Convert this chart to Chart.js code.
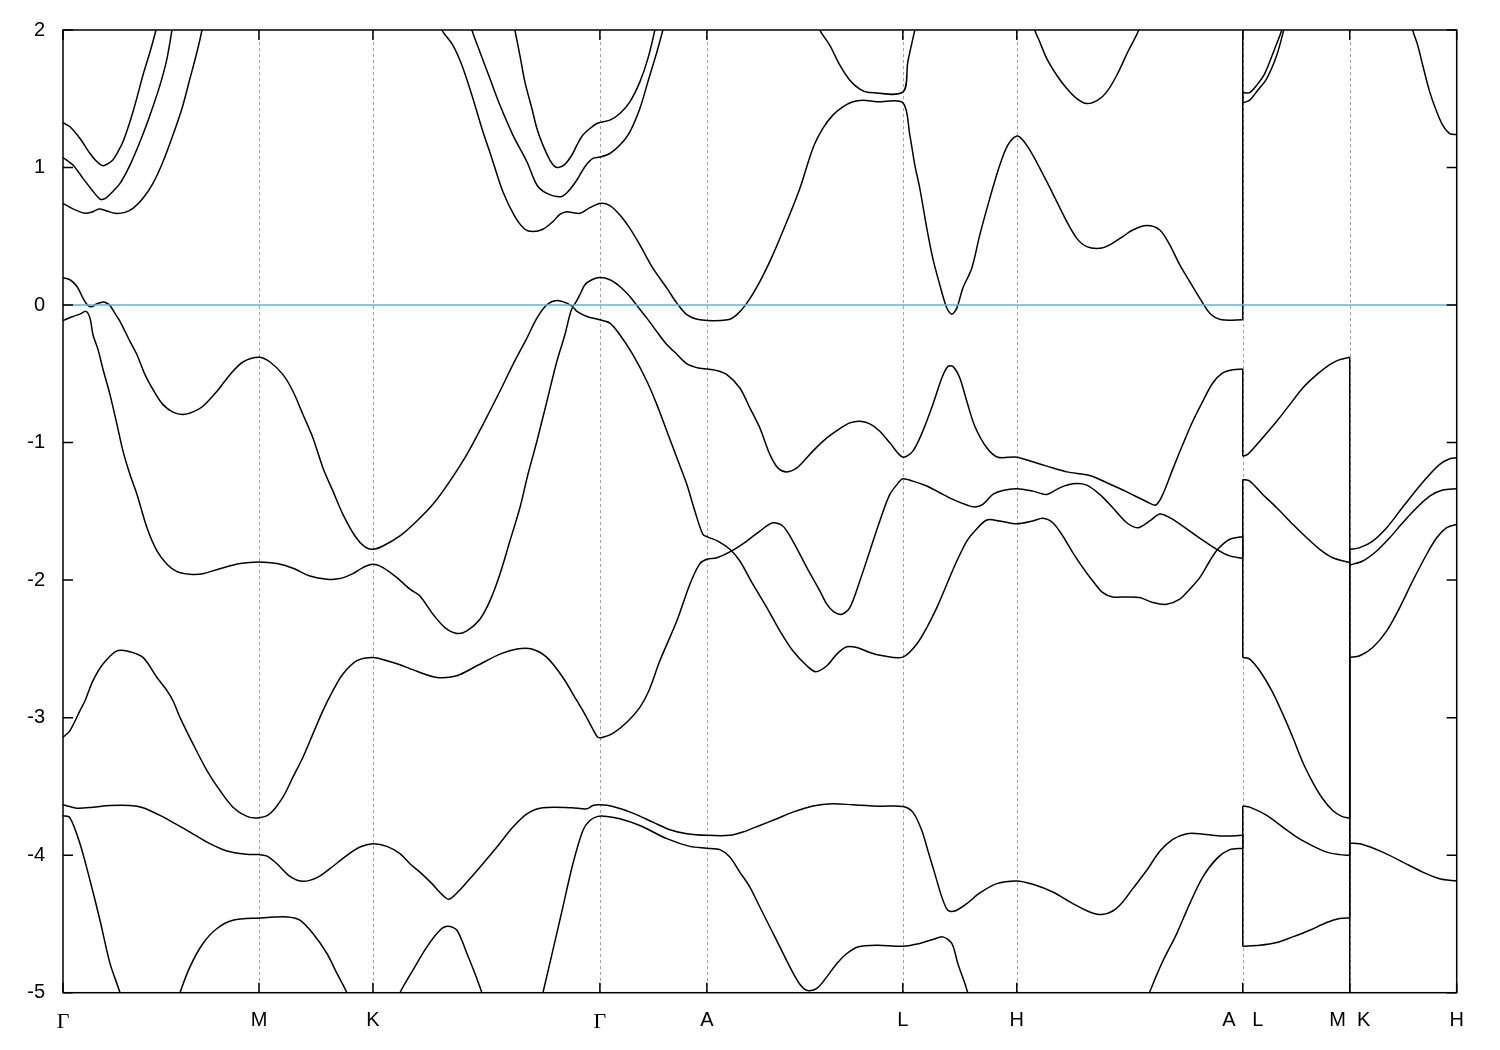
<!DOCTYPE html>
<html>
<head>
<meta charset="utf-8">
<title>Band structure</title>
<script src="https://cdn.jsdelivr.net/npm/chart.js@4.4.1/dist/chart.umd.min.js"></script>
<style>
  html, body { margin: 0; padding: 0; background: #fff; }
</style>
</head>
<body>
<canvas id="bands" width="1500" height="1050"></canvas>
<script>
/* Band structure along G-M-K-G-A-L-H-A|L-M|K-H, energies in eV (E - EF) */

// k-path (path length) and high-symmetry labels
const K_TICKS  = [0, 0.196, 0.310, 0.537, 0.644, 0.840, 0.954, 1.180, 1.287, 1.394];
const K_LABELS = ['Γ', 'M', 'K', 'Γ', 'A', 'L', 'H', 'A   L', 'M  K', 'H'];
const E_TICKS  = [-5, -4, -3, -2, -1, 0, 1, 2];
const E_MIN = -5;
const E_MAX = 2;
const FERMI = 0;

// bands as [k, E] ; values outside [-5, 2] only carry the line off the frame
const bandG133 = [
  [0,1.327],[0.007,1.296],[0.017,1.211],[0.027,1.102],[0.034,1.042],[0.040,1.013],[0.045,1.028],
  [0.050,1.057],[0.055,1.115],[0.060,1.187],[0.065,1.289],[0.070,1.405],[0.075,1.536],[0.080,1.673],
  [0.087,1.840],[0.093,2.0],[0.097,2.13],[0.2,2.6],[0.449,2.12],
  [0.452,2.0],[0.457,1.816],[0.462,1.623],[0.469,1.429],[0.474,1.284],[0.480,1.163],[0.487,1.054],
  [0.492,1.006],[0.496,1.001],[0.502,1.023],[0.509,1.091],[0.514,1.163],[0.520,1.236],[0.527,1.284],
  [0.534,1.320],[0.537,1.327],[0.547,1.345],[0.557,1.393],[0.567,1.478],[0.577,1.623],[0.585,1.792],
  [0.592,2.0],[0.595,2.12],[0.7,2.6],[1.394,2.6]
];

const bandG107 = [
  [0,1.073],[0.010,1.018],[0.020,0.921],[0.029,0.837],[0.037,0.771],[0.042,0.774],[0.047,0.805],
  [0.057,0.885],[0.067,1.018],[0.077,1.187],[0.087,1.381],[0.097,1.599],[0.104,1.792],[0.109,2.0],
  [0.111,2.10],[0.2,2.6],[0.4,2.6],[0.406,2.10],
  [0.409,2.0],[0.417,1.840],[0.427,1.647],[0.437,1.454],[0.450,1.236],[0.464,1.042],[0.474,0.873],
  [0.484,0.812],[0.498,0.788],[0.505,0.824],[0.514,0.909],[0.522,1.006],[0.530,1.066],[0.537,1.076],
  [0.547,1.102],[0.557,1.163],[0.567,1.260],[0.577,1.429],[0.585,1.623],[0.594,1.840],[0.600,2.0],
  [0.603,2.09],[0.7,2.6],[1.394,2.6]
];

const bandG074 = [
  [0,0.739],[0.010,0.699],[0.022,0.667],[0.030,0.679],[0.036,0.699],[0.044,0.684],[0.052,0.667],
  [0.062,0.674],[0.070,0.703],[0.080,0.776],[0.090,0.885],[0.100,1.042],[0.110,1.236],[0.119,1.429],
  [0.127,1.647],[0.134,1.840],[0.139,2.0],[0.141,2.10],[0.25,2.6],[0.37,2.6],[0.375,2.10],
  [0.379,2.0],[0.390,1.889],[0.399,1.744],[0.409,1.526],[0.419,1.284],[0.429,1.066],[0.440,0.824],
  [0.452,0.643],[0.462,0.551],[0.470,0.534],[0.480,0.551],[0.490,0.607],[0.497,0.660],[0.504,0.679],
  [0.510,0.672],[0.517,0.667],[0.527,0.708],[0.537,0.739],
  [0.547,0.723],[0.557,0.655],[0.567,0.558],[0.577,0.438],[0.590,0.268],[0.604,0.123],[0.614,0.014],
  [0.624,-0.070],[0.637,-0.107],[0.665,-0.107],[0.674,-0.070],[0.684,0.014],[0.697,0.171],[0.710,0.365],
  [0.724,0.607],[0.737,0.848],[0.750,1.139],[0.760,1.284],[0.770,1.381],[0.780,1.441],[0.790,1.478],
  [0.800,1.490],[0.814,1.478],[0.840,1.472],
  [0.847,1.236],[0.852,1.018],[0.857,0.848],[0.864,0.558],[0.870,0.340],[0.877,0.147],[0.884,-0.022],
  [0.889,-0.066],[0.894,-0.022],[0.900,0.123],[0.909,0.268],[0.917,0.510],[0.927,0.776],[0.937,1.018],
  [0.945,1.163],[0.954,1.229],[0.960,1.200],[0.970,1.091],[0.984,0.897],[0.994,0.752],[1.004,0.607],
  [1.014,0.485],[1.024,0.425],[1.037,0.413],[1.047,0.438],[1.060,0.498],[1.070,0.546],[1.084,0.578],
  [1.097,0.546],[1.107,0.438],[1.117,0.292],[1.127,0.171],[1.137,0.050],[1.147,-0.059],[1.159,-0.107],
  [1.180,-0.107],
  [1.180,1.545],[1.187,1.545],[1.194,1.599],[1.202,1.683],[1.212,1.864],[1.219,2.0],[1.222,2.10],
  [1.26,2.6],[1.287,2.6],[1.33,2.6],[1.348,2.10],
  [1.350,2.0],[1.355,1.889],[1.360,1.744],[1.367,1.550],[1.374,1.405],[1.380,1.308],[1.387,1.247],
  [1.394,1.240]
];

const bandL155 = [
  [0,2.6],[0.75,2.6],[0.754,2.10],[0.757,2.0],[0.767,1.889],[0.777,1.744],[0.787,1.635],[0.797,1.570],
  [0.805,1.548],[0.840,1.548],[0.845,1.768],[0.852,2.0],[0.855,2.10],[0.9,2.6],[0.965,2.6],
  [0.969,2.10],[0.972,2.0],[0.977,1.913],[0.984,1.792],[0.994,1.671],[1.004,1.574],[1.014,1.501],
  [1.024,1.465],[1.035,1.490],[1.044,1.550],[1.054,1.671],[1.065,1.840],[1.076,2.0],[1.079,2.10],
  [1.12,2.6],[1.180,2.6],
  [1.180,1.470],[1.187,1.490],[1.195,1.562],[1.204,1.647],[1.214,1.816],[1.221,2.0],[1.224,2.10],
  [1.3,2.6],[1.394,2.6]
];

const bandG020 = [
  [0,0.198],[0.007,0.184],[0.014,0.135],[0.020,0.050],[0.025,-0.003],[0.029,-0.012],[0.033,0.007],
  [0.039,0.021],[0.043,0.017],[0.047,-0.003],[0.052,-0.061],[0.057,-0.119],[0.067,-0.264],[0.074,-0.361],
  [0.082,-0.506],[0.092,-0.639],[0.100,-0.724],[0.110,-0.779],[0.120,-0.796],[0.130,-0.777],[0.140,-0.736],
  [0.154,-0.627],[0.167,-0.506],[0.180,-0.414],[0.196,-0.380],[0.207,-0.414],[0.220,-0.506],[0.230,-0.627],
  [0.240,-0.796],[0.250,-0.966],[0.260,-1.184],[0.270,-1.353],[0.280,-1.522],[0.292,-1.679],[0.302,-1.759],
  [0.310,-1.776],[0.320,-1.752],[0.337,-1.679],[0.354,-1.570],[0.370,-1.449],[0.387,-1.280],[0.404,-1.086],
  [0.420,-0.869],[0.437,-0.627],[0.450,-0.433],[0.464,-0.240],[0.474,-0.095],[0.484,0.002],[0.494,0.033],
  [0.504,0.014],[0.510,-0.007],[0.517,0.075],[0.522,0.147],[0.529,0.184],[0.537,0.200],[0.547,0.184],
  [0.557,0.135],[0.567,0.062],[0.574,-0.003],[0.584,-0.095],[0.593,-0.184],[0.603,-0.279],[0.614,-0.358],
  [0.624,-0.427],[0.637,-0.460],[0.644,-0.465],[0.653,-0.475],[0.664,-0.506],[0.677,-0.603],[0.687,-0.748],
  [0.697,-0.893],[0.707,-1.086],[0.715,-1.184],[0.724,-1.213],[0.734,-1.184],[0.744,-1.111],[0.750,-1.062],
  [0.764,-0.966],[0.777,-0.898],[0.787,-0.857],[0.797,-0.845],[0.807,-0.864],[0.817,-0.917],[0.827,-1.002],
  [0.840,-1.106],[0.850,-1.062],[0.860,-0.917],[0.870,-0.724],[0.879,-0.530],[0.885,-0.446],[0.890,-0.446],
  [0.897,-0.530],[0.904,-0.700],[0.912,-0.881],[0.924,-1.038],[0.935,-1.106],[0.954,-1.106],[0.970,-1.140],
  [0.984,-1.171],[1.004,-1.213],[1.027,-1.239],[1.044,-1.292],[1.064,-1.358],[1.084,-1.430],[1.093,-1.454],
  [1.100,-1.377],[1.110,-1.193],[1.120,-1.014],[1.130,-0.845],[1.140,-0.700],[1.150,-0.567],[1.160,-0.494],
  [1.170,-0.470],[1.180,-0.465],
  [1.180,-1.099],[1.185,-1.086],[1.197,-0.990],[1.214,-0.845],[1.227,-0.724],[1.240,-0.603],[1.254,-0.506],
  [1.267,-0.433],[1.277,-0.397],[1.287,-0.380],
  [1.287,-5.6],[1.394,-5.6]
];

const bandGm012 = [
  [0,-0.112],[0.010,-0.083],[0.017,-0.066],[0.023,-0.046],[0.027,-0.095],[0.030,-0.216],[0.035,-0.322],
  [0.040,-0.467],[0.047,-0.651],[0.054,-0.869],[0.060,-1.062],[0.067,-1.232],[0.074,-1.377],[0.084,-1.619],
  [0.094,-1.788],[0.104,-1.885],[0.114,-1.938],[0.127,-1.957],[0.140,-1.953],[0.157,-1.917],[0.177,-1.880],
  [0.196,-1.868],[0.214,-1.880],[0.230,-1.914],[0.247,-1.970],[0.264,-1.993],[0.277,-1.989],[0.290,-1.953],
  [0.300,-1.909],[0.310,-1.885],[0.320,-1.909],[0.334,-1.982],[0.347,-2.066],[0.357,-2.115],[0.370,-2.248],
  [0.382,-2.345],[0.394,-2.388],[0.404,-2.369],[0.417,-2.284],[0.427,-2.151],[0.437,-1.957],[0.447,-1.716],
  [0.457,-1.474],[0.465,-1.232],[0.474,-0.990],[0.484,-0.700],[0.494,-0.409],[0.502,-0.216],[0.507,-0.070],
  [0.510,-0.017],[0.514,-0.046],[0.524,-0.083],[0.537,-0.107],[0.547,-0.131],[0.557,-0.216],[0.570,-0.361],
  [0.584,-0.554],[0.594,-0.724],[0.604,-0.917],[0.614,-1.111],[0.624,-1.304],[0.632,-1.498],[0.640,-1.667],
  [0.645,-1.687],[0.655,-1.716],[0.667,-1.776],[0.677,-1.861],[0.690,-2.030],[0.704,-2.200],[0.717,-2.369],
  [0.730,-2.514],[0.744,-2.623],[0.753,-2.666],[0.764,-2.623],[0.774,-2.538],[0.784,-2.485],[0.794,-2.490],
  [0.807,-2.526],[0.820,-2.550],[0.840,-2.560],[0.854,-2.465],[0.864,-2.345],[0.874,-2.200],[0.884,-2.030],
  [0.894,-1.861],[0.904,-1.716],[0.912,-1.643],[0.924,-1.563],[0.937,-1.570],[0.954,-1.590],[0.970,-1.570],
  [0.980,-1.551],[0.990,-1.583],[1.000,-1.679],[1.010,-1.800],[1.020,-1.909],[1.030,-2.006],[1.040,-2.091],
  [1.050,-2.122],[1.064,-2.122],[1.077,-2.127],[1.090,-2.163],[1.104,-2.176],[1.117,-2.139],[1.127,-2.066],
  [1.137,-1.982],[1.147,-1.861],[1.155,-1.776],[1.167,-1.703],[1.180,-1.684],
  [1.180,-2.562],[1.187,-2.574],[1.197,-2.659],[1.209,-2.804],[1.220,-2.973],[1.230,-3.143],[1.240,-3.324],
  [1.250,-3.470],[1.260,-3.590],[1.270,-3.675],[1.279,-3.718],[1.287,-3.731],
  [1.287,-2.562],[1.297,-2.550],[1.310,-2.490],[1.324,-2.369],[1.337,-2.200],[1.350,-2.006],[1.364,-1.812],
  [1.374,-1.692],[1.384,-1.619],[1.394,-1.594]
];

const bandGm314 = [
  [0,-3.143],[0.007,-3.094],[0.017,-2.949],[0.022,-2.877],[0.030,-2.731],[0.040,-2.610],[0.054,-2.514],
  [0.066,-2.519],[0.080,-2.562],[0.094,-2.708],[0.104,-2.804],[0.110,-2.877],[0.117,-2.998],[0.130,-3.191],
  [0.144,-3.385],[0.157,-3.530],[0.170,-3.651],[0.184,-3.718],[0.196,-3.728],[0.207,-3.699],[0.220,-3.578],
  [0.230,-3.433],[0.240,-3.288],[0.250,-3.118],[0.260,-2.949],[0.270,-2.804],[0.280,-2.683],[0.294,-2.586],
  [0.310,-2.562],[0.324,-2.586],[0.337,-2.615],[0.354,-2.663],[0.374,-2.708],[0.394,-2.695],[0.414,-2.623],
  [0.437,-2.538],[0.454,-2.501],[0.469,-2.501],[0.484,-2.562],[0.500,-2.708],[0.514,-2.877],[0.520,-2.949],
  [0.529,-3.070],[0.535,-3.143],[0.540,-3.143],[0.550,-3.114],[0.564,-3.034],[0.577,-2.925],[0.586,-2.804],
  [0.597,-2.586],[0.614,-2.296],[0.627,-2.030],[0.637,-1.880],[0.644,-1.848],[0.654,-1.837],[0.667,-1.795],
  [0.684,-1.716],[0.697,-1.643],[0.710,-1.583],[0.720,-1.607],[0.730,-1.716],[0.744,-1.909],[0.757,-2.078],
  [0.764,-2.175],[0.771,-2.231],[0.779,-2.248],[0.787,-2.200],[0.797,-2.006],[0.807,-1.788],[0.817,-1.570],
  [0.827,-1.377],[0.837,-1.280],[0.840,-1.263],[0.850,-1.280],[0.864,-1.316],[0.877,-1.365],[0.890,-1.413],
  [0.904,-1.454],[0.912,-1.469],[0.920,-1.449],[0.930,-1.377],[0.940,-1.348],[0.954,-1.336],[0.970,-1.353],
  [0.984,-1.377],[0.997,-1.329],[1.010,-1.300],[1.024,-1.309],[1.037,-1.377],[1.050,-1.474],[1.064,-1.583],
  [1.075,-1.619],[1.087,-1.570],[1.097,-1.520],[1.107,-1.546],[1.120,-1.607],[1.137,-1.694],[1.154,-1.776],
  [1.167,-1.824],[1.180,-1.841],
  [1.180,-1.268],[1.187,-1.280],[1.200,-1.377],[1.214,-1.474],[1.230,-1.594],[1.244,-1.692],[1.257,-1.776],
  [1.270,-1.837],[1.287,-1.873],
  [1.287,-1.890],[1.300,-1.861],[1.314,-1.788],[1.327,-1.692],[1.340,-1.583],[1.354,-1.474],[1.367,-1.389],
  [1.380,-1.345],[1.394,-1.336]
];

const bandGm363 = [
  [0,-3.634],[0.014,-3.658],[0.030,-3.651],[0.047,-3.639],[0.067,-3.639],[0.080,-3.655],[0.097,-3.711],
  [0.117,-3.791],[0.127,-3.832],[0.144,-3.905],[0.164,-3.970],[0.184,-3.994],[0.196,-3.996],[0.204,-4.007],
  [0.214,-4.062],[0.227,-4.154],[0.240,-4.190],[0.254,-4.163],[0.267,-4.098],[0.284,-4.001],[0.297,-3.941],
  [0.310,-3.917],[0.324,-3.936],[0.337,-3.989],[0.347,-4.062],[0.357,-4.123],[0.369,-4.207],[0.379,-4.285],
  [0.386,-4.321],[0.395,-4.268],[0.407,-4.171],[0.420,-4.062],[0.434,-3.941],[0.450,-3.796],[0.464,-3.699],
  [0.480,-3.655],[0.509,-3.655],[0.524,-3.663],[0.530,-3.639],[0.537,-3.634],[0.550,-3.646],[0.570,-3.694],
  [0.590,-3.760],[0.607,-3.815],[0.624,-3.844],[0.644,-3.856],[0.667,-3.856],[0.680,-3.832],[0.697,-3.784],
  [0.714,-3.735],[0.730,-3.687],[0.750,-3.642],[0.770,-3.626],[0.790,-3.634],[0.817,-3.644],[0.840,-3.646],
  [0.850,-3.687],[0.859,-3.820],[0.865,-3.965],[0.872,-4.134],[0.879,-4.304],[0.885,-4.401],[0.892,-4.406],
  [0.904,-4.352],[0.917,-4.275],[0.934,-4.207],[0.954,-4.188],[0.970,-4.212],[0.990,-4.268],[1.010,-4.352],
  [1.027,-4.413],[1.039,-4.432],[1.050,-4.406],[1.060,-4.340],[1.070,-4.243],[1.084,-4.110],[1.097,-3.972],
  [1.110,-3.885],[1.124,-3.844],[1.137,-3.844],[1.157,-3.861],[1.180,-3.856],
  [1.180,-4.662],[1.197,-4.655],[1.214,-4.635],[1.230,-4.594],[1.247,-4.546],[1.264,-4.490],[1.277,-4.461],
  [1.287,-4.457],
  [1.287,-1.776],[1.297,-1.764],[1.310,-1.716],[1.324,-1.619],[1.337,-1.498],[1.350,-1.377],[1.364,-1.256],
  [1.377,-1.159],[1.387,-1.118],[1.394,-1.111]
];

const bandGm371 = [
  [0,-3.713],[0.007,-3.728],[0.017,-3.917],[0.027,-4.183],[0.037,-4.473],[0.047,-4.787],[0.057,-5.001],
  [0.064,-5.2],[0.2,-5.6],[0.47,-5.6],[0.476,-5.126],
  [0.480,-5.001],[0.490,-4.691],[0.500,-4.377],[0.510,-4.062],[0.520,-3.820],[0.527,-3.748],[0.535,-3.718],
  [0.544,-3.718],[0.557,-3.735],[0.577,-3.784],[0.604,-3.880],[0.627,-3.936],[0.644,-3.949],[0.657,-3.960],
  [0.667,-4.014],[0.677,-4.123],[0.687,-4.232],[0.697,-4.377],[0.707,-4.522],[0.717,-4.667],[0.727,-4.812],
  [0.737,-4.938],[0.745,-4.985],[0.754,-4.969],[0.764,-4.885],[0.774,-4.787],[0.784,-4.715],[0.795,-4.667],
  [0.814,-4.655],[0.840,-4.662],[0.857,-4.642],[0.870,-4.613],[0.880,-4.594],[0.889,-4.642],[0.895,-4.787],
  [0.902,-4.932],[0.905,-5.001],[0.909,-5.09],[1.0,-5.6],[1.075,-5.6],[1.081,-5.09],
  [1.0865,-5.001],[1.093,-4.887],[1.100,-4.771],[1.114,-4.570],[1.127,-4.352],[1.140,-4.159],[1.154,-4.025],
  [1.167,-3.960],[1.180,-3.949],
  [1.180,-3.642],[1.187,-3.651],[1.204,-3.711],[1.220,-3.796],[1.234,-3.869],[1.247,-3.922],[1.264,-3.978],
  [1.277,-3.996],[1.287,-4.001],
  [1.287,-3.912],[1.300,-3.922],[1.320,-3.978],[1.340,-4.050],[1.360,-4.123],[1.377,-4.171],[1.394,-4.188]
];

const bandM446 = [
  [0,-5.6],[0.1,-5.6],[0.114,-5.09],[0.117,-5.001],[0.127,-4.812],[0.140,-4.642],[0.154,-4.533],
  [0.170,-4.473],[0.196,-4.457],[0.224,-4.449],[0.237,-4.473],[0.250,-4.570],[0.264,-4.715],[0.274,-4.860],
  [0.284,-5.001],[0.288,-5.09],[0.31,-5.6],[0.33,-5.6],[0.333,-5.09],
  [0.337,-5.001],[0.350,-4.836],[0.364,-4.667],[0.377,-4.546],[0.385,-4.517],[0.394,-4.546],[0.404,-4.715],
  [0.412,-4.860],[0.419,-5.001],[0.422,-5.09],[0.45,-5.6],[1.394,-5.6]
];

const BANDS = [bandG133, bandG107, bandG074, bandL155, bandG020, bandGm012,
               bandGm314, bandGm363, bandGm371, bandM446];

const COLORS = {
  band:  '#000000',
  fermi: '#56b4e9',
  grid:  '#a0a0a0',
  text:  '#000000',
};

const TICK_LEN = 10;
const SANS  = 'Liberation Sans, Arial, sans-serif';
const SERIF = 'Liberation Serif, Times New Roman, serif';

// frame, inward ticks and dashed high-symmetry lines
const frameDecor = {
  id: 'frameDecor',
  beforeDatasetsDraw(chart) {
    const { ctx, chartArea: a, scales: { x } } = chart;
    ctx.save();
    ctx.strokeStyle = COLORS.grid;
    ctx.lineWidth = 1;
    ctx.setLineDash([3, 3]);
    K_TICKS.slice(1, -1).forEach(v => {
      const px = Math.round(x.getPixelForValue(v)) + 0.5;
      ctx.beginPath();
      ctx.moveTo(px, a.top);
      ctx.lineTo(px, a.bottom);
      ctx.stroke();
    });
    ctx.restore();
  },
  afterDatasetsDraw(chart) {
    const { ctx, chartArea: a, scales: { x, y } } = chart;
    ctx.save();
    ctx.strokeStyle = '#000';
    ctx.lineWidth = 1.5;
    ctx.strokeRect(a.left, a.top, a.right - a.left, a.bottom - a.top);
    ctx.beginPath();
    K_TICKS.forEach(v => {
      const px = x.getPixelForValue(v);
      ctx.moveTo(px, a.bottom); ctx.lineTo(px, a.bottom - TICK_LEN);
      ctx.moveTo(px, a.top);    ctx.lineTo(px, a.top + TICK_LEN);
    });
    E_TICKS.forEach(v => {
      const py = y.getPixelForValue(v);
      ctx.moveTo(a.left, py);  ctx.lineTo(a.left + TICK_LEN, py);
      ctx.moveTo(a.right, py); ctx.lineTo(a.right - TICK_LEN, py);
    });
    ctx.stroke();
    ctx.restore();
  },
};

// split a band at the path breaks: smooth pieces plus straight vertical joins
function splitBand(points) {
  const pieces = [[points[0]]];
  const joins = [];
  for (let i = 1; i < points.length; i++) {
    if (points[i][0] === points[i - 1][0]) {
      joins.push([points[i - 1], points[i]]);
      pieces.push([points[i]]);
    } else {
      pieces[pieces.length - 1].push(points[i]);
    }
  }
  return { pieces, joins };
}

function lineDataset(data, tension) {
  return {
    data,
    borderColor: COLORS.band,
    borderWidth: 1.5,
    pointRadius: 0,
    tension,
    fill: false,
  };
}

function renderChart() {
  const ctx = document.getElementById('bands').getContext('2d');
  const kEnd = K_TICKS[K_TICKS.length - 1];

  const datasets = [{
    label: 'EF',
    data: [[0, FERMI], [kEnd, FERMI]],
    borderColor: COLORS.fermi,
    borderWidth: 1.6,
    pointRadius: 0,
    fill: false,
  }];

  BANDS.forEach(band => {
    const { pieces, joins } = splitBand(band);
    pieces.forEach(p => datasets.push(lineDataset(p, 0.3)));
    joins.forEach(j => datasets.push(lineDataset(j, 0)));
  });

  new Chart(ctx, {
    type: 'line',
    data: { datasets },
    options: {
      responsive: false,
      animation: false,
      layout: { padding: { left: 0, top: 28, right: 43.3, bottom: 0 } },
      plugins: {
        legend: { display: false },
        tooltip: { enabled: false },
      },
      events: [],
      scales: {
        x: {
          type: 'linear',
          min: 0,
          max: kEnd,
          afterBuildTicks: s => { s.ticks = K_TICKS.map(v => ({ value: v })); },
          afterFit: s => { s.height = 57.3; },
          grid: { display: false, drawTicks: false },
          border: { display: false },
          ticks: {
            autoSkip: false,
            maxRotation: 0,
            minRotation: 0,
            padding: 16,
            color: COLORS.text,
            font: c => (K_LABELS[c.index] === 'Γ'
              ? { family: SERIF, size: 22 }
              : { family: SANS, size: 20 }),
            callback: (v, i) => K_LABELS[i],
          },
        },
        y: {
          type: 'linear',
          min: E_MIN,
          max: E_MAX,
          afterBuildTicks: s => { s.ticks = E_TICKS.map(v => ({ value: v })); },
          afterFit: s => { s.width = 63; },
          grid: { display: false, drawTicks: false },
          border: { display: false },
          ticks: {
            padding: 18,
            color: COLORS.text,
            font: { family: SANS, size: 20 },
            callback: v => String(v),
          },
        },
      },
    },
    plugins: [frameDecor],
  });
}

document.addEventListener('DOMContentLoaded', renderChart);
</script>
</body>
</html>
